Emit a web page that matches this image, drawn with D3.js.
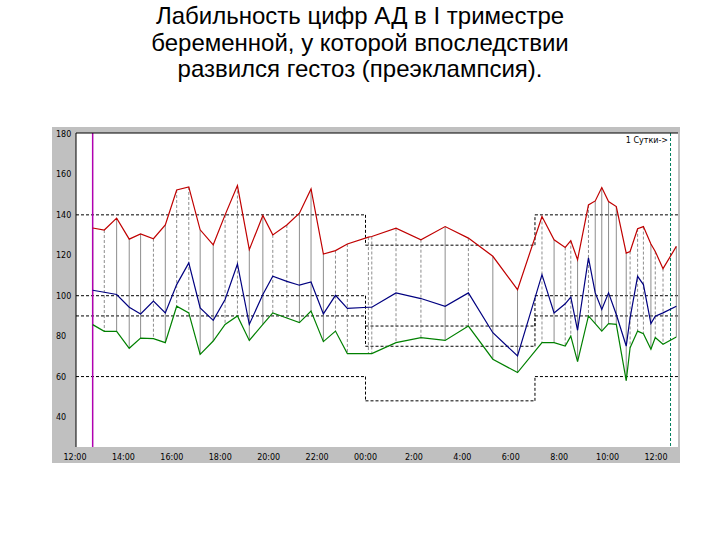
<!DOCTYPE html>
<html><head><meta charset="utf-8">
<script src="https://cdn.jsdelivr.net/npm/d3@7"></script>
<style>body{margin:0;background:#fff}</style>
</head><body>
<svg id="chart" width="720" height="540"></svg>
<script>
const titleLines = ["Лабильность цифр АД в I триместре", "беременной, у которой впоследствии", "развился гестоз (преэклампсия)."];
const hours = [0.73,1.21,1.72,2.24,2.71,3.24,3.73,4.2,4.7,5.17,5.71,6.2,6.71,7.2,7.76,8.17,8.75,9.27,9.75,10.26,10.76,11.25,12.12,12.26,13.26,14.29,15.29,16.25,17.26,18.28,19.29,19.79,20.25,20.48,20.76,21.21,21.49,21.76,22.04,22.36,22.77,22.93,23.24,23.48,23.79,23.97,24.29,24.84];
const systolic = [133.5,132.5,138.4,128,130.6,128.2,135,152.3,153.8,132.6,125.2,140,154.5,122.8,139.7,130.1,135,140.8,152.8,120.6,122.3,125.6,129,129.3,133.4,127.7,134.2,128.5,119.5,103,139.2,127.7,123.9,127.2,117.8,144.9,146.9,153.5,146.6,144.1,121.1,121.9,133.1,134.2,125.6,121.9,113.4,124.4];
const meanBP = [102.7,101.7,100.6,94.3,91,97.3,91.5,105.5,116.2,94,87.8,98.1,115.7,85.8,100.6,109.6,107.1,105.2,106.8,91,100.2,93.7,94.3,94.3,101.4,98.6,94.8,101.4,81.7,70.2,110.4,91.5,96,99.3,82.9,118.7,101.4,93.2,101.4,90.7,75.1,89,109.6,105.5,86.2,89.9,91.5,94.8];
const diastolic = [85.7,82.4,82.4,74,79,78.8,76.8,94.8,91.5,71,77.6,85.8,90,77.9,85.8,91.5,89,86.7,92.4,77.3,82.5,71.4,71.4,71.4,76.8,79.3,77.9,85,68.6,62,76.8,76.8,75.1,80,67.4,90,86.2,82.5,86.2,85.8,58,74.3,82.5,81.2,73.5,79.3,76,79.6];
const dashedStem = [0,1,0,0,0,1,0,1,1,0,0,1,1,0,0,1,1,0,0,0,1,1,1,1,1,1,0,1,0,0,1,0,1,1,0,1,0,0,0,0,0,1,1,1,0,1,1,0];
// normal limits: [from hour, to hour, levels]
const limits = [[0, 12, [140, 100, 90, 60]], [12, 19, [125, 85, 75, 48]], [19, 25, [140, 100, 90, 60]]];
const yTicks = [180, 160, 140, 120, 100, 80, 60, 40];
const xTickLabels = ["12:00","14:00","16:00","18:00","20:00","22:00","00:00","2:00","4:00","6:00","8:00","10:00","12:00"];

const svg = d3.select("#chart");
svg.selectAll("text.title").data(titleLines).enter().append("text")
  .attr("x", 360).attr("y", (d, i) => 24 + i * 26.5)
  .attr("text-anchor", "middle").style("font-family", "Liberation Sans, Arial").style("font-size", "24px")
  .text(d => d);

svg.append("rect").attr("x", 52).attr("y", 127).attr("width", 628).attr("height", 336).attr("fill", "#c0c0c0");
const pLeft = 76, pRight = 678, pTop = 133, pBottom = 447;
svg.append("rect").attr("x", pLeft).attr("y", pTop).attr("width", pRight - pLeft).attr("height", pBottom - pTop).attr("fill", "#fff");

const x = d3.scaleLinear().domain([0, 24]).range([75, 656]);
const y = d3.scaleLinear().domain([40, 180]).range([417, 134]);

// limit lines
limits.forEach(([a, b, lv], i) => {
  lv.forEach((v, k) => {
    svg.append("line").attr("x1", Math.max(pLeft, x(a))).attr("x2", Math.min(pRight, x(b)))
      .attr("y1", y(v)).attr("y2", y(v)).attr("stroke", "#000").attr("stroke-dasharray", "3,2");
    if (i > 0) {
      const prev = limits[i - 1][2][k];
      svg.append("line").attr("x1", x(a)).attr("x2", x(a)).attr("y1", y(prev)).attr("y2", y(v))
        .attr("stroke", "#000").attr("stroke-dasharray", "3,2");
    }
  });
});

// stems
svg.selectAll("line.stem").data(hours).enter().append("line")
  .attr("x1", d => x(d)).attr("x2", d => x(d))
  .attr("y1", (d, i) => y(systolic[i])).attr("y2", (d, i) => y(diastolic[i]))
  .attr("stroke", "#707070").attr("stroke-width", 0.8)
  .attr("stroke-dasharray", (d, i) => dashedStem[i] ? "3,2" : null);

svg.append("line").attr("x1", x(0.73)).attr("x2", x(0.73)).attr("y1", pTop).attr("y2", pBottom).attr("stroke", "#b000b0").attr("stroke-width", 1.5);
svg.append("line").attr("x1", x(24.6)).attr("x2", x(24.6)).attr("y1", pTop).attr("y2", pBottom).attr("stroke", "#008060").attr("stroke-dasharray", "3,2");

const line = d3.line().x(d => x(d[0])).y(d => y(d[1]));
[[systolic, "#c00000"], [meanBP, "#000080"], [diastolic, "#008000"]].forEach(([s, c]) => {
  svg.append("path").attr("d", line(hours.map((h, i) => [h, s[i]])))
    .attr("fill", "none").attr("stroke", c).attr("stroke-width", 1.2);
});

svg.append("path").attr("d", `M${pLeft},${pBottom}V${pTop}H${pRight}`).attr("fill", "none").attr("stroke", "#000");

const font = "DejaVu Sans, sans-serif";
svg.selectAll("text.yt").data(yTicks).enter().append("text")
  .attr("x", 56).attr("y", d => y(d) + 3).style("font-family", font).style("font-size", "8px").text(d => d);
svg.selectAll("text.xt").data(xTickLabels).enter().append("text")
  .attr("x", (d, i) => x(i * 2)).attr("y", 460).attr("text-anchor", "middle")
  .style("font-family", font).style("font-size", "8px").text(d => d);
svg.append("text").attr("x", 668).attr("y", 143).attr("text-anchor", "end")
  .style("font-family", font).style("font-size", "8px").text("1 Сутки->");
</script>
</body></html>
